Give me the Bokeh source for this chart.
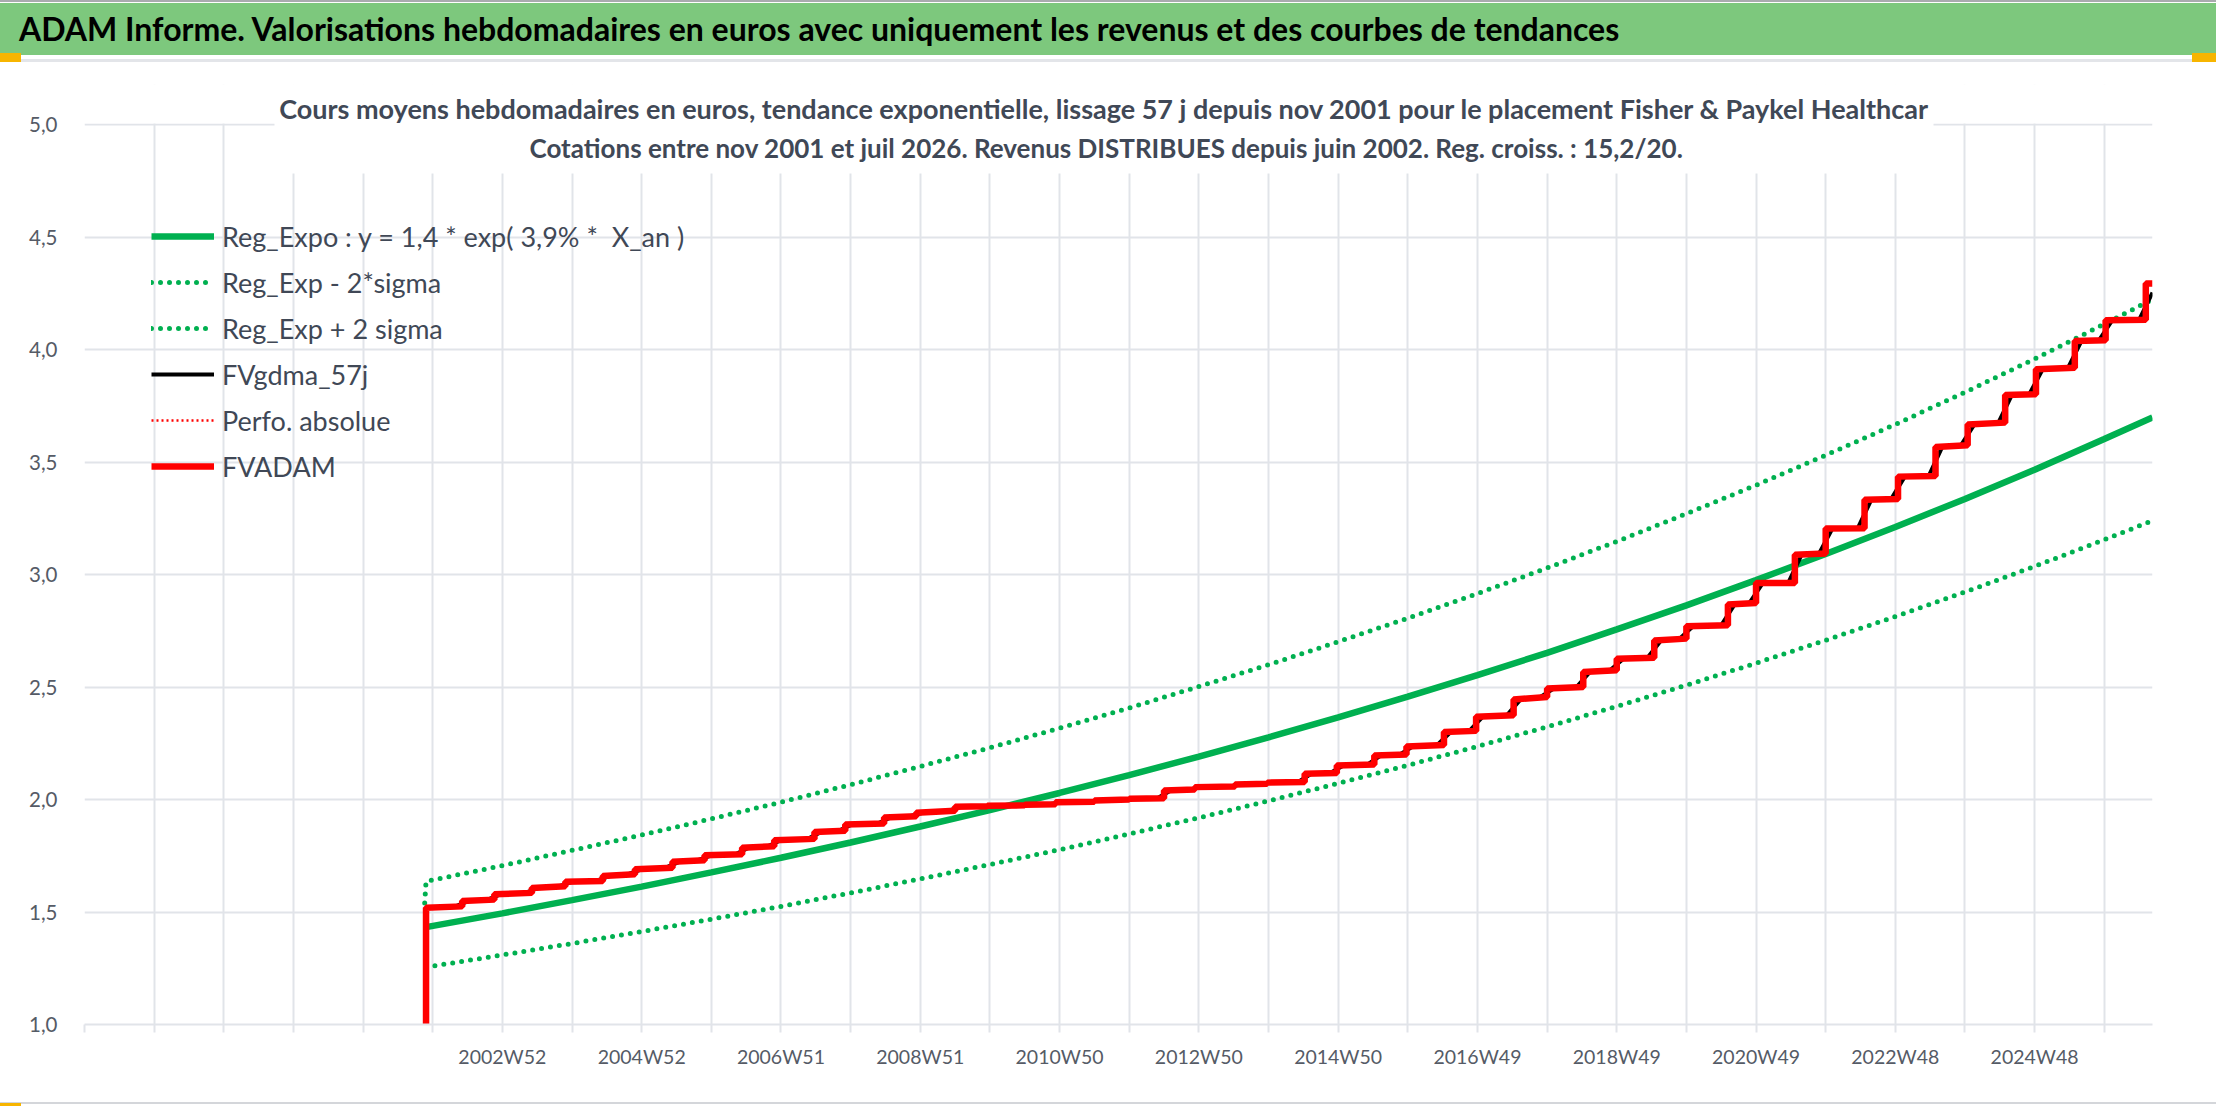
from bokeh.plotting import figure
from bokeh.models import (Range1d, FixedTicker, CustomJSTickFormatter, Legend, LegendItem,
                          Label, BoxAnnotation, Div)
from bokeh.layouts import column
from bokeh.embed import file_html
from bokeh.resources import INLINE

# ---------------- DATA ----------------
HEADER = ("ADAM Informe. Valorisations hebdomadaires en euros avec uniquement les revenus "
          "et des courbes de tendances")
TITLE1 = ("Cours moyens hebdomadaires en euros, tendance exponentielle, lissage 57 j depuis "
          "nov 2001 pour le placement Fisher & Paykel Healthcar")
TITLE2 = "Cotations entre nov 2001 et juil 2026. Revenus DISTRIBUES depuis juin 2002. Reg. croiss. : 15,2/20."

# x axis = weekly categories (index of the week); 1544 weeks shown
n_weeks = 1544
label_weeks = [312, 416, 520, 624, 728, 832, 936, 1040, 1144, 1248, 1352, 1456]
label_texts = ["2002W52", "2004W52", "2006W51", "2008W51", "2010W50", "2012W50",
               "2014W50", "2016W49", "2018W49", "2020W49", "2022W48", "2024W48"]
y_ticks = [1.0, 1.5, 2.0, 2.5, 3.0, 3.5, 4.0, 4.5, 5.0]

# exponential regression and +/- 2 sigma bands (read at yearly points)
trend_weeks = [255, 312, 364, 416, 468, 520, 572, 624, 676, 728, 780, 832, 884, 936,
               988, 1040, 1092, 1144, 1196, 1248, 1300, 1352, 1404, 1456, 1508, 1544]
reg_values = [1.433, 1.494, 1.553, 1.613, 1.676, 1.741, 1.809, 1.880, 1.953, 2.029,
              2.108, 2.191, 2.276, 2.365, 2.457, 2.553, 2.652, 2.756, 2.863, 2.975,
              3.091, 3.211, 3.336, 3.466, 3.602, 3.698]
lower_values = [1.255, 1.309, 1.360, 1.413, 1.468, 1.525, 1.585, 1.647, 1.711, 1.777,
                1.847, 1.919, 1.994, 2.072, 2.152, 2.236, 2.323, 2.414, 2.508, 2.606,
                2.708, 2.813, 2.922, 3.036, 3.155, 3.239]
upper_weeks = [254, 255, 312, 364, 416, 468, 520, 572, 624, 676, 728, 780, 832, 884, 936,
               988, 1040, 1092, 1144, 1196, 1248, 1300, 1352, 1404, 1456, 1508, 1544]
upper_values = [1.540, 1.636, 1.706, 1.774, 1.842, 1.914, 1.988, 2.066, 2.147, 2.230, 2.317,
                2.407, 2.502, 2.599, 2.701, 2.806, 2.915, 3.029, 3.147, 3.270, 3.397,
                3.530, 3.667, 3.810, 3.958, 4.113, 4.223]

# FVADAM: stepped series (week of each income step, value before and after)
adam_weeks = [255, 282, 306, 334, 359, 387, 411, 439, 463, 491, 515, 545, 568, 597, 621,
              650, 674, 702, 725, 754, 780, 806, 829, 859, 883, 911, 935, 963, 987, 1015,
              1039, 1067, 1092, 1119, 1144, 1172, 1196, 1227, 1248, 1277, 1300, 1329, 1354,
              1382, 1406, 1434, 1457, 1486, 1509, 1539]
adam_before = [1.000, 1.525, 1.555, 1.585, 1.614, 1.638, 1.668, 1.697, 1.730, 1.757,
               1.792, 1.825, 1.861, 1.893, 1.926, 1.950, 1.970, 1.974, 1.979, 1.990,
               2.000, 2.006, 2.044, 2.058, 2.070, 2.078, 2.118, 2.156, 2.200, 2.242,
               2.305, 2.374, 2.456, 2.500, 2.574, 2.630, 2.715, 2.774, 2.873, 2.962,
               3.093, 3.206, 3.336, 3.438, 3.574, 3.675, 3.801, 3.919, 4.041, 4.132]
adam_after = [1.519, 1.549, 1.579, 1.607, 1.634, 1.660, 1.690, 1.723, 1.752, 1.786,
              1.819, 1.856, 1.889, 1.920, 1.941, 1.968, 1.972, 1.977, 1.988, 1.996,
              2.003, 2.040, 2.055, 2.067, 2.075, 2.114, 2.151, 2.196, 2.236, 2.300,
              2.368, 2.444, 2.493, 2.567, 2.626, 2.707, 2.770, 2.867, 2.962, 3.088,
              3.204, 3.332, 3.435, 3.567, 3.667, 3.798, 3.912, 4.038, 4.130, 4.293]
adam_last_week = 1544
adam_last_value = 4.293

# FVgdma_57j: 57-day smoothed series (read points)
black_weeks = [255, 277, 287, 301, 311, 329, 339, 354, 364, 382, 392, 406, 416, 434, 444,
               458, 468, 486, 496, 510, 520, 540, 550, 563, 573, 592, 602, 616, 626, 645,
               655, 669, 679, 697, 707, 720, 730, 749, 759, 775, 785, 801, 811, 824, 834,
               854, 864, 878, 888, 906, 916, 930, 940, 958, 968, 982, 992, 1010, 1020,
               1034, 1044, 1062, 1072, 1087, 1097, 1114, 1124, 1139, 1149, 1167, 1177,
               1191, 1201, 1222, 1232, 1243, 1253, 1272, 1282, 1295, 1305, 1324, 1334,
               1349, 1359, 1377, 1387, 1401, 1411, 1429, 1439, 1452, 1462, 1481, 1491,
               1504, 1514, 1534, 1544]
black_values = [1.519, 1.525, 1.549, 1.555, 1.579, 1.585, 1.607, 1.614, 1.634, 1.638,
                1.660, 1.668, 1.690, 1.697, 1.723, 1.730, 1.752, 1.757, 1.786, 1.792,
                1.819, 1.825, 1.856, 1.861, 1.889, 1.893, 1.920, 1.926, 1.941, 1.950,
                1.968, 1.970, 1.972, 1.974, 1.977, 1.979, 1.988, 1.990, 1.996, 2.000,
                2.003, 2.006, 2.040, 2.044, 2.055, 2.058, 2.067, 2.070, 2.075, 2.078,
                2.114, 2.118, 2.151, 2.156, 2.196, 2.200, 2.236, 2.242, 2.300, 2.305,
                2.368, 2.374, 2.444, 2.456, 2.493, 2.500, 2.567, 2.574, 2.626, 2.630,
                2.707, 2.715, 2.770, 2.774, 2.867, 2.873, 2.962, 2.962, 3.088, 3.093,
                3.204, 3.206, 3.332, 3.336, 3.435, 3.438, 3.567, 3.574, 3.667, 3.675,
                3.798, 3.801, 3.912, 3.919, 4.038, 4.041, 4.130, 4.132, 4.253]

legend_labels = ["Reg_Expo : y = 1,4 * exp( 3,9% *  X_an )", "Reg_Exp - 2*sigma",
                 "Reg_Exp + 2 sigma", "FVgdma_57j", "Perfo. absolue", "FVADAM"]

# ---------------- STYLE ----------------
FONT = "Lato"
GREEN = "#00B050"
RED = "#FF0000"
GRID = "#E1E4E9"
TXT = "#404856"
TICK_TXT = "#555B66"
W = 2216

# ---------------- HEADER (html band) ----------------
header_html = (
    f'<div style="position:relative;width:{W}px;height:62px;background:white;overflow:hidden;">'
    f'<div style="position:absolute;left:0;top:0;width:{W}px;height:2px;background:#A9ABAE;"></div>'
    f'<div style="position:absolute;left:0;top:3px;width:{W}px;height:52px;background:#7DC87D;"></div>'
    '<div style="position:absolute;left:19px;top:3px;height:52px;line-height:52px;'
    'font-family:Lato;font-weight:bold;font-size:32px;color:#000;white-space:nowrap;">'
    f'{HEADER}</div>'
    f'<div style="position:absolute;left:0;top:59px;width:{W}px;height:3px;background:#E3E5E9;"></div>'
    '<div style="position:absolute;left:0;top:53px;width:21px;height:9px;background:#F7B500;"></div>'
    f'<div style="position:absolute;left:{W-24}px;top:53px;width:24px;height:9px;background:#F7B500;"></div>'
    '</div>'
)
header = Div(text=header_html, width=W, height=62, styles={"margin": "0", "padding": "0"})

footer_html = (
    f'<div style="position:relative;width:{W}px;height:8px;background:white;overflow:hidden;">'
    f'<div style="position:absolute;left:0;top:0;width:{W}px;height:2px;background:#D4D6DA;"></div>'
    '<div style="position:absolute;left:0;top:1px;width:21px;height:7px;background:#F7B500;"></div>'
    '<div style="position:absolute;left:884px;top:4px;width:144px;height:4px;background:#E8E070;"></div>'
    '<div style="position:absolute;left:1315px;top:4px;width:155px;height:4px;background:#E8E070;"></div>'
    '</div>'
)
footer = Div(text=footer_html, width=W, height=8, styles={"margin": "0", "padding": "0"})

# ---------------- MAIN CHART ----------------
y_top = 5.0 + 40 / 225.0   # room above 5,0 for the chart title
p = figure(width=W, height=1036, x_range=Range1d(0, n_weeks), y_range=Range1d(1.0, y_top),
           toolbar_location=None, output_backend="svg",
           min_border_left=84, min_border_right=64, min_border_top=22, min_border_bottom=74)
p.outline_line_color = None
p.background_fill_color = "white"
p.border_fill_color = "white"

grid_weeks = list(range(0, n_weeks, 52))
overrides = {w: "" for w in grid_weeks}
for w, t in zip(label_weeks, label_texts):
    overrides[w] = t

xt = FixedTicker(ticks=grid_weeks)
p.xaxis.ticker = xt
p.xgrid.ticker = xt
p.xaxis.major_label_overrides = overrides
p.xaxis.axis_line_color = GRID
p.xaxis.axis_line_width = 2
p.xaxis.major_tick_line_color = GRID
p.xaxis.major_tick_line_width = 2
p.xaxis.major_tick_out = 8
p.xaxis.major_tick_in = 0
p.xaxis.minor_tick_line_color = None
p.xaxis.major_label_text_font = FONT
p.xaxis.major_label_text_font_size = "19.5px"
p.xaxis.major_label_text_color = TICK_TXT
p.xaxis.major_label_standoff = 12

yt = FixedTicker(ticks=y_ticks)
p.yaxis.ticker = yt
p.ygrid.ticker = yt
p.yaxis.formatter = CustomJSTickFormatter(code="return tick.toFixed(1).replace('.', ',');")
p.yaxis.axis_line_color = None
p.yaxis.major_tick_line_color = None
p.yaxis.minor_tick_line_color = None
p.yaxis.major_label_text_font = FONT
p.yaxis.major_label_text_font_size = "20.5px"
p.yaxis.major_label_text_color = TICK_TXT
p.yaxis.major_label_standoff = 21

for g in (p.xgrid, p.ygrid):
    g.grid_line_color = GRID
    g.grid_line_width = 2

# series
adam_x, adam_y = [], []
for w, b, a in zip(adam_weeks, adam_before, adam_after):
    adam_x += [w, w]
    adam_y += [b, a]
adam_x.append(adam_last_week)
adam_y.append(adam_last_value)

r_reg = p.line(trend_weeks, reg_values, line_color=GREEN, line_width=6.5)
r_low = p.line(trend_weeks, lower_values, line_color=GREEN, line_width=5,
               line_dash="0 9", line_cap="round")
r_up = p.line(upper_weeks, upper_values, line_color=GREEN, line_width=5,
              line_dash="0 9", line_cap="round")
r_black = p.line(black_weeks, black_values, line_color="black", line_width=4)
r_perfo = p.line(adam_x, adam_y, line_color=RED, line_width=2.5, line_dash="2 3")
r_adam = p.line(adam_x, adam_y, line_color=RED, line_width=6.5)

# white cover above the 5,0 line and behind the chart title
p.add_layout(BoxAnnotation(left=-10, right=2100, bottom=901, top=960,
                           left_units="screen", right_units="screen",
                           bottom_units="screen", top_units="screen",
                           fill_color="white", fill_alpha=1.0, line_color=None))
p.add_layout(BoxAnnotation(left=190, right=1849, bottom=851, top=960,
                           left_units="screen", right_units="screen",
                           bottom_units="screen", top_units="screen",
                           fill_color="white", fill_alpha=1.0, line_color=None))
p.add_layout(Label(x=1020, y=916, x_units="screen", y_units="screen", text=TITLE1,
                   text_align="center", text_baseline="middle", text_font=FONT,
                   text_font_style="bold", text_font_size="27px", text_color=TXT))
p.add_layout(Label(x=1022, y=877, x_units="screen", y_units="screen", text=TITLE2,
                   text_align="center", text_baseline="middle", text_font=FONT,
                   text_font_style="bold", text_font_size="26px", text_color=TXT))

renderers = [r_reg, r_low, r_up, r_black, r_perfo, r_adam]
legend = Legend(items=[LegendItem(label=l, renderers=[r]) for l, r in zip(legend_labels, renderers)],
                location=(67, 538), orientation="vertical", glyph_width=63, glyph_height=40,
                label_height=40, spacing=6, padding=0, margin=0, label_standoff=8,
                label_text_font=FONT, label_text_font_size="27px", label_text_color=TXT,
                background_fill_alpha=0, border_line_color=None)
p.add_layout(legend)

layout = column(header, p, footer, spacing=0)
open("out.html", "w").write(file_html(layout, INLINE))
